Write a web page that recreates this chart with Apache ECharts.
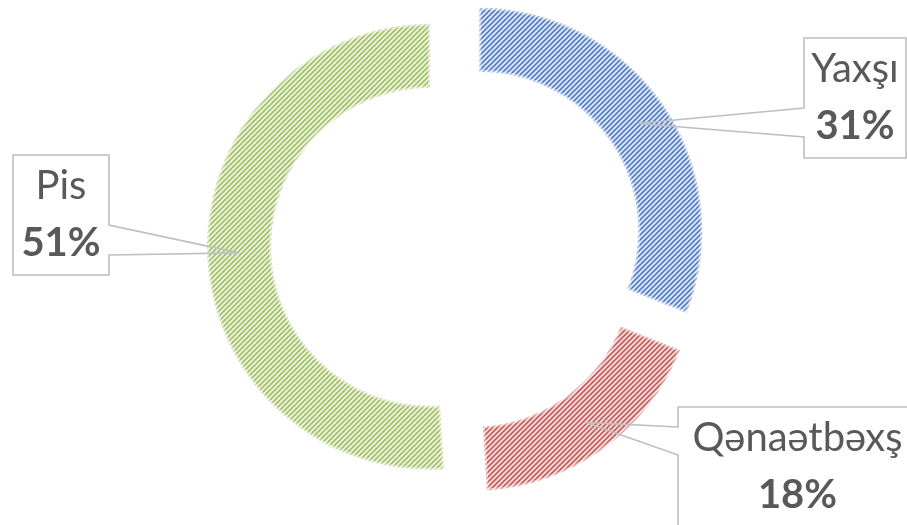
<!DOCTYPE html>
<html><head><meta charset="utf-8">
<script src="https://cdn.jsdelivr.net/npm/echarts@6/dist/echarts.min.js"></script>
<style>html,body{margin:0;padding:0;background:#fff}#c{width:907px;height:525px}</style>
</head><body><div id="c"></div>
<script>
const categories = ['Yaxşı', 'Qənaətbəxş', 'Pis'];
const values = [31, 18, 51];
const darkColors = ['#4472C4', '#C0504D', '#9BBB59'];
const lightColors = ['#dae3f3', '#f3d7d6', '#e9f0db'];

// layout constants (not data)
const CENTER = [457, 246];
const RADII = [159, 223];
const OFFSET = 27;
const BOXES = [
  {l: 804, t: 38, w: 102, h: 120, side: 'left', b1: 108, b2: 137},
  {l: 678, t: 407, w: 239, h: 120, side: 'left', b1: 427, b2: 455},
  {l: 13, t: 155, w: 96, h: 120, side: 'right', b1: 225, b2: 255}
];

function hatch(dark, light) {
  const s = 5;
  const c = document.createElement('canvas');
  c.width = s; c.height = s;
  const g = c.getContext('2d');
  g.fillStyle = light; g.fillRect(0, 0, s, s);
  g.strokeStyle = dark; g.lineWidth = 1.5;
  g.beginPath();
  g.moveTo(-1, s + 1); g.lineTo(s + 1, -1);
  g.moveTo(-1, 1); g.lineTo(1, -1);
  g.moveTo(s - 1, s + 1); g.lineTo(s + 1, s - 1);
  g.stroke();
  return c;
}

const total = values.reduce((a, b) => a + b, 0);
function midDir(i) {
  let cum = 0;
  for (let k = 0; k < i; k++) cum += values[k];
  const th = (cum + values[i] / 2) / total * Math.PI * 2;
  return [Math.sin(th), -Math.cos(th)];
}
function sliceCenter(i) {
  const d = midDir(i);
  return [CENTER[0] + d[0] * OFFSET, CENTER[1] + d[1] * OFFSET];
}
function tipPoint(i) {
  const d = midDir(i), c = sliceCenter(i);
  const r = (RADII[0] + RADII[1]) / 2;
  return [c[0] + d[0] * r, c[1] + d[1] * r];
}
function calloutPoints(i) {
  const b = BOXES[i], tip = tipPoint(i);
  const L = b.l, R = b.l + b.w, T = b.t, B = b.t + b.h;
  if (b.side === 'left') {
    return [tip, [L, b.b1], [L, T], [R, T], [R, B], [L, B], [L, b.b2], tip];
  }
  return [tip, [R, b.b1], [R, T], [L, T], [L, B], [R, B], [R, b.b2], tip];
}

const richStyle = {
  n: {fontFamily: 'Lato', fontSize: 40, color: '#595959', lineHeight: 57, align: 'center'},
  v: {fontFamily: 'Lato', fontSize: 40, fontWeight: 'bold', color: '#595959', lineHeight: 57, align: 'center'}
};

// one pie series per slice so each slice can be offset (exploded) on its own
const series = categories.map((cat, i) => ({
  type: 'pie',
  z: 2,
  center: sliceCenter(i),
  radius: RADII,
  startAngle: 90,
  clockwise: true,
  emphasis: {disabled: true},
  silent: true,
  label: {show: false},
  labelLine: {show: false},
  data: categories.map((name, j) => ({
    name: name,
    value: values[j],
    itemStyle: j === i ? {
      color: {image: hatch(darkColors[j], lightColors[j]), repeat: 'repeat'},
      borderColor: 'rgba(255,255,255,0.45)',
      borderWidth: 4
    } : {color: 'rgba(0,0,0,0)', borderWidth: 0}
  }))
}));

// overlay series (above the slices) carrying the callout labels
series.push({
  type: 'pie',
  z: 5,
  center: CENTER,
  radius: RADII,
  startAngle: 90,
  clockwise: true,
  avoidLabelOverlap: false,
  emphasis: {disabled: true},
  silent: true,
  itemStyle: {color: 'rgba(0,0,0,0)', borderWidth: 0},
  data: categories.map((name, j) => ({name: name, value: values[j]})),
  label: {
    show: true,
    position: 'outside',
    formatter: '{n|{b}}\n{v|{c}%}',
    rich: richStyle
  },
  labelLine: {show: true, smooth: false, showAbove: true, lineStyle: {color: '#bfbfbf', width: 1.6}},
  labelLayout: function (p) {
    const i = p.dataIndex;
    const b = BOXES[i];
    return {
      x: b.l + b.w / 2,
      y: b.t + 3,
      align: 'center',
      verticalAlign: 'top',
      labelLinePoints: calloutPoints(i)
    };
  }
});

const chart = echarts.init(document.getElementById('c'), null, {renderer: 'canvas'});
chart.setOption({animation: false, series: series});
</script></body></html>
